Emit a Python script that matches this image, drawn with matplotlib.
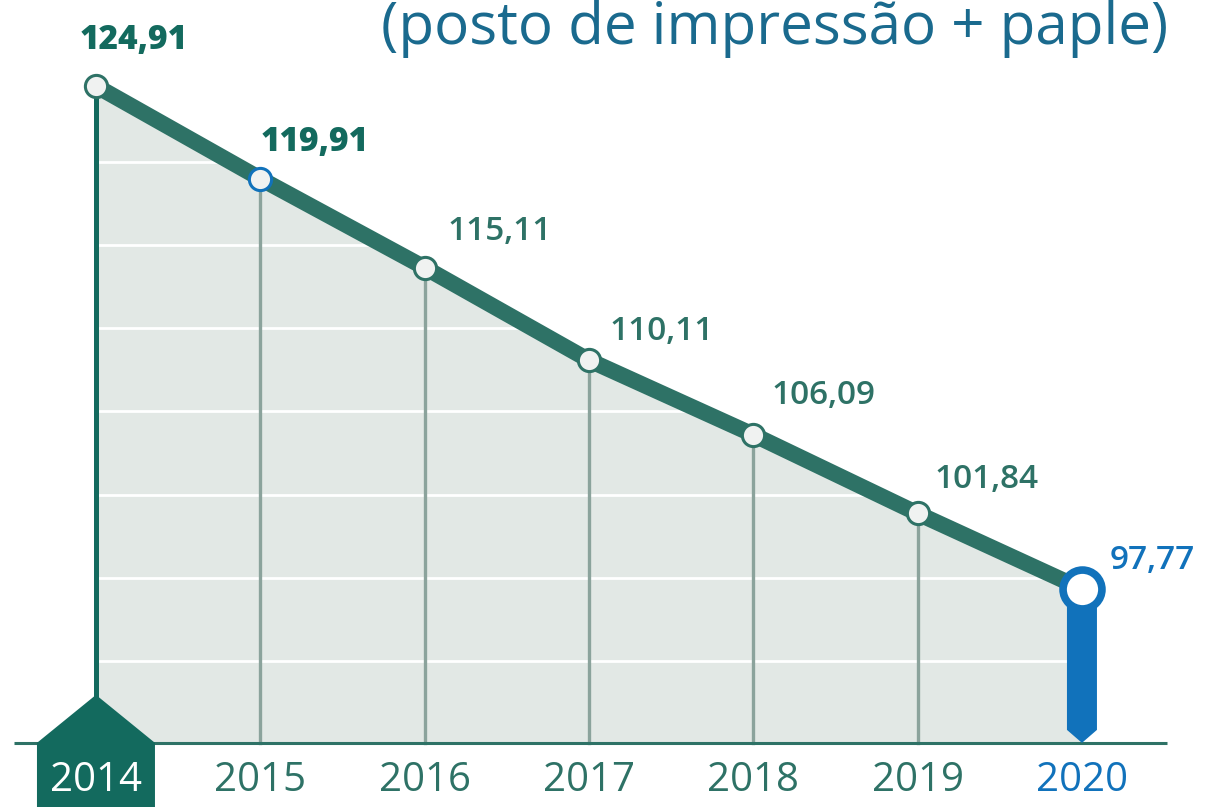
import numpy as np
import matplotlib.pyplot as plt
from matplotlib.patches import Polygon

years = [2014, 2015, 2016, 2017, 2018, 2019, 2020]
values = [124.91, 119.91, 115.11, 110.11, 106.09, 101.84, 97.77]
labels = ['124,91', '119,91', '115,11', '110,11', '106,09', '101,84', '97,77']
title = '(posto de impressão + paple)'

base = 89.46
grid_vals = [120.81, 116.33, 111.85, 107.37, 102.84, 98.36, 93.88]

dark = '#136a5e'
green = '#2e7266'
grey = '#8ba39c'
blue = '#1172bb'
fill = '#e2e8e5'

W, H = 1208, 807
xlim = (2013.416, 2020.767)
ylim = (86.0, 129.55)
sx = (xlim[1] - xlim[0]) / W   # data per pixel
sy = (ylim[1] - ylim[0]) / H

plt.rcParams['font.family'] = ['Open Sans', 'DejaVu Sans']
fig = plt.figure(figsize=(W / 100, H / 100), dpi=100)
ax = fig.add_axes([0, 0, 1, 1])
ax.set_xlim(*xlim)
ax.set_ylim(*ylim)
ax.axis('off')

# area under the line
ax.fill_between(years, values, base, color=fill, lw=0, zorder=1)
for g in grid_vals:
    ax.plot([years[0], years[-1]], [g, g], color='white', lw=2, zorder=2)
ax.fill_between(years, values, ylim[1], color='white', lw=0, zorder=2.5)

# drop lines
for i in range(1, 6):
    ax.plot([years[i], years[i]], [base, values[i]], color=grey, lw=2.4, zorder=3)
ax.plot([years[0], years[0]], [base, values[0]], color=dark, lw=3.6, zorder=3)

# axis line
ax.plot([xlim[0] + 14 * sx, xlim[0] + 1167 * sx], [base, base], color=green,
        lw=2.2, zorder=4, solid_capstyle='butt')

# 2014 house marker
hw = 59 * sx
peak = base + 48 * sy
house = Polygon([(years[0] - hw, ylim[0] - 1), (years[0] - hw, base),
                 (years[0], peak), (years[0] + hw, base),
                 (years[0] + hw, ylim[0] - 1)], closed=True,
                facecolor=dark, edgecolor='none', zorder=5)
ax.add_patch(house)

# 2020 blue pin
bw = 15 * sx
pin = Polygon([(years[-1] - bw, values[-1]), (years[-1] + bw, values[-1]),
               (years[-1] + bw, base + 13 * sy), (years[-1], base),
               (years[-1] - bw, base + 13 * sy)], closed=True,
              facecolor=blue, edgecolor='none', zorder=5)
ax.add_patch(pin)

# main line
ax.plot(years, values, color=green, lw=11.5, zorder=6, solid_capstyle='butt')
for i in range(6):
    ec = blue if i == 1 else green
    ax.plot(years[i], values[i], 'o', ms=16, mfc='#f0f2f1', mec=ec, mew=2.2, zorder=7)
ax.plot(years[-1], values[-1], 'o', ms=28, mfc='white', mec=blue, mew=5.5, zorder=7)

# value labels
offx = [-16, 0, 23, 21, 18, 17, 28]
offy = [46, 37, 36, 29, 39, 34, 28]
for i in range(7):
    col = dark if i < 2 else green
    if i == 6:
        col = blue
    wt = 'heavy' if i < 2 else 'semibold'
    ax.text(years[i] + offx[i] * sx, values[i] + offy[i] * sy, labels[i],
            fontsize=24, color=col, fontweight=wt, ha='left', va='center', zorder=8)

# year labels
for i, yr in enumerate(years):
    col = green
    if i == 0:
        col = 'white'
    if i == 6:
        col = blue
    ax.text(yr, base - 38 * sy, str(yr), fontsize=29, color=col,
            ha='center', va='center', zorder=8)

ax.text(xlim[0] + 1168 * sx, ylim[1] - 44 * sy, title, fontsize=42,
        color='#1a6a8e', ha='right', va='baseline', zorder=8)

fig.savefig('out.png', dpi=100)
